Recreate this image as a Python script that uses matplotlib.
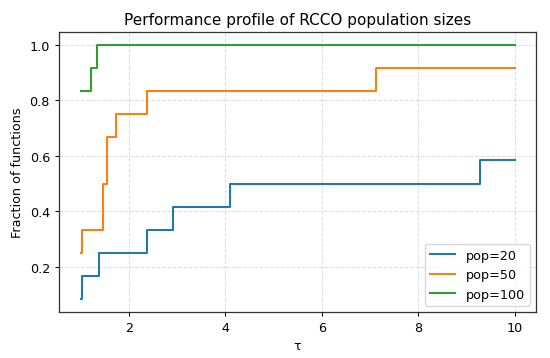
import matplotlib

matplotlib.use("Agg")
import matplotlib.pyplot as plt

# breakpoints (tau) and fraction of functions solved, step-post
tau_pop20 = [1.0, 1.04, 1.39, 2.38, 2.92, 4.10, 9.28, 10.0]
frac_pop20 = [1/12, 2/12, 3/12, 4/12, 5/12, 6/12, 7/12, 7/12]

tau_pop50 = [1.0, 1.04, 1.47, 1.54, 1.73, 2.38, 7.12, 10.0]
frac_pop50 = [3/12, 4/12, 6/12, 8/12, 9/12, 10/12, 11/12, 11/12]

tau_pop100 = [1.0, 1.22, 1.35, 10.0]
frac_pop100 = [10/12, 11/12, 12/12, 12/12]

series = [
    ("pop=20", tau_pop20, frac_pop20, "#1f77b4"),
    ("pop=50", tau_pop50, frac_pop50, "#ff7f0e"),
    ("pop=100", tau_pop100, frac_pop100, "#2ca02c"),
]

# drawn at 6in wide and shrunk to 550px, like the original
fig, ax = plt.subplots(figsize=(6, 3.916), dpi=550 / 6)
for label, tau, frac, color in series:
    ax.plot(tau, frac, drawstyle="steps-post", color=color, lw=1.6, label=label)

ax.set_title("Performance profile of RCCO population sizes")
ax.set_xlabel("τ")
ax.set_ylabel("Fraction of functions")
ax.grid(True, linestyle="--", alpha=0.4)
for sp in ax.spines.values():
    sp.set_color("#333333")
    sp.set_linewidth(1.0)
ax.legend(loc="lower right")
fig.subplots_adjust(left=0.107, right=0.975, top=0.908, bottom=0.128)
fig.savefig("out.png")
